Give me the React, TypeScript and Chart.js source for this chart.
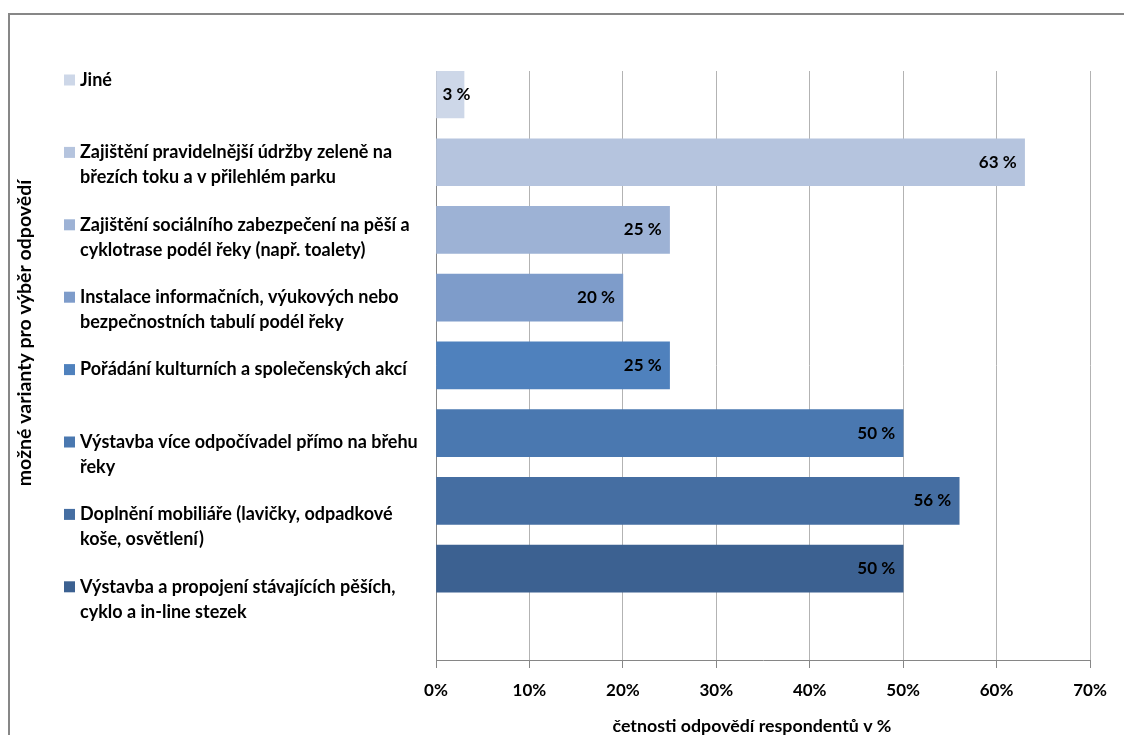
import React, { useEffect, useRef } from "react";
import { Chart, registerables } from "chart.js";

Chart.register(...registerables);

const categories: string[][] = [
  ["Jiné"],
  ["Zajištění pravidelnější údržby zeleně na", "březích toku a v přilehlém parku"],
  ["Zajištění sociálního zabezpečení na pěší a", "cyklotrase podél řeky (např. toalety)"],
  ["Instalace informačních, výukových nebo", "bezpečnostních tabulí podél řeky"],
  ["Pořádání kulturních a společenských akcí"],
  ["Výstavba více odpočívadel přímo na břehu", "řeky"],
  ["Doplnění mobiliáře (lavičky, odpadkové", "koše, osvětlení)"],
  ["Výstavba a propojení stávajících pěších,", "cyklo a in-line stezek"],
];
const values: number[] = [3, 63, 25, 20, 25, 50, 56, 50];
const barColors: string[] = [
  "#cdd7e8",
  "#b5c4de",
  "#9db2d5",
  "#7e9cca",
  "#4f81bd",
  "#4a78b0",
  "#456ea2",
  "#3c6191",
];
const xTickValues: number[] = [0, 10, 20, 30, 40, 50, 60, 70];
const xTitle = "četnosti odpovědí respondentů v %";
const yTitle = "možné varianty pro výběr odpovědí";

const FONT = "Lato";
const W = 1124;
const H = 735;

export default function App() {
  const ref = useRef<HTMLCanvasElement | null>(null);
  useEffect(() => {
    document.body.style.margin = "0";
    document.body.style.overflow = "hidden";
    const canvas = ref.current;
    if (!canvas) return;

    const decor = {
      id: "decor",
      beforeDraw(chart: any) {
        const ctx = chart.ctx;
        ctx.save();
        ctx.fillStyle = "#ffffff";
        ctx.fillRect(0, 0, W, H);
        ctx.strokeStyle = "#878787";
        ctx.lineWidth = 2;
        ctx.strokeRect(9, 14, W + 20, H + 20);
        ctx.restore();
      },
      afterDraw(chart: any) {
        const ctx = chart.ctx;
        ctx.save();
        // y title
        ctx.font = `bold 19.5px ${FONT}`;
        ctx.fillStyle = "#000";
        ctx.textAlign = "center";
        ctx.textBaseline = "middle";
        ctx.translate(25, 333);
        ctx.rotate(-Math.PI / 2);
        ctx.fillText(yTitle, 0, 0);
        ctx.restore();

        // x title
        ctx.save();
        ctx.font = `bold 17.8px ${FONT}`;
        ctx.fillStyle = "#000";
        ctx.textAlign = "center";
        ctx.textBaseline = "middle";
        ctx.fillText(xTitle, 752, 726);
        ctx.restore();

        // legend list
        ctx.save();
        ctx.font = `bold 18px ${FONT}`;
        ctx.textAlign = "left";
        ctx.textBaseline = "middle";
        categories.forEach((lines, i) => {
          const y0 = 80 + 72.4 * i;
          ctx.fillStyle = barColors[i];
          ctx.fillRect(64, y0 - 5.5, 11, 11);
          ctx.fillStyle = "#000";
          lines.forEach((ln, j) => {
            ctx.fillText(ln, 80, y0 + j * 25);
          });
        });
        ctx.restore();
      },
      afterDatasetsDraw(chart: any) {
        const ctx = chart.ctx;
        const meta = chart.getDatasetMeta(0);
        ctx.save();
        ctx.font = `bold 17px ${FONT}`;
        ctx.fillStyle = "#000";
        ctx.textAlign = "right";
        ctx.textBaseline = "middle";
        meta.data.forEach((el: any, i: number) => {
          const txt = `${values[i]} %`;
          const w = ctx.measureText(txt).width;
          let xr = el.x - 8;
          if (xr - w < el.base + 6) xr = el.base + 6 + w;
          ctx.fillText(txt, xr, el.y);
        });
        ctx.restore();
      },
    };

    const chart = new Chart(canvas, {
      type: "bar",
      data: {
        datasets: [
          {
            data: values.map((v, i) => ({ x: v, y: i })) as any,
            backgroundColor: barColors,
            borderWidth: 0,
            barThickness: 47,
          },
        ],
      },
      options: {
        indexAxis: "y",
        animation: false,
        responsive: false,
        maintainAspectRatio: false,
        layout: { padding: { left: 436, right: 34, top: 71, bottom: 0 } },
        plugins: {
          legend: { display: false },
          tooltip: { enabled: false },
        },
        scales: {
          y: {
            type: "linear",
            display: false,
            reverse: true,
            offset: false,
            grid: { offset: false },
            min: -0.347,
            max: 8.35,
          },
          x: {
            type: "linear",
            min: 0,
            max: 70,
            afterFit(scale: any) {
              scale.height = 75;
            },
            afterBuildTicks(scale: any) {
              scale.ticks = xTickValues.map((v) => ({ value: v }));
            },
            grid: {
              color: (c: any) => (c.index === 0 ? "#868686" : "#b3b3b3"),
              lineWidth: 1,
              drawTicks: true,
              tickLength: 8,
              tickColor: "#868686",
            },
            border: { display: true, color: "#868686", width: 1 },
            ticks: {
              color: "#000",
              font: { family: FONT, size: 17, weight: "bold" },
              padding: 12,
              maxRotation: 0,
              callback: (v: any) => `${v}%`,
            },
            title: { display: false },
          },
        },
      } as any,
      plugins: [decor],
    });
    return () => chart.destroy();
  }, []);
  return (
    <div style={{ width: W, height: H, overflow: "hidden" }}>
      <canvas ref={ref} width={W} height={H} style={{ display: "block", width: W, height: H }} />
    </div>
  );
}
